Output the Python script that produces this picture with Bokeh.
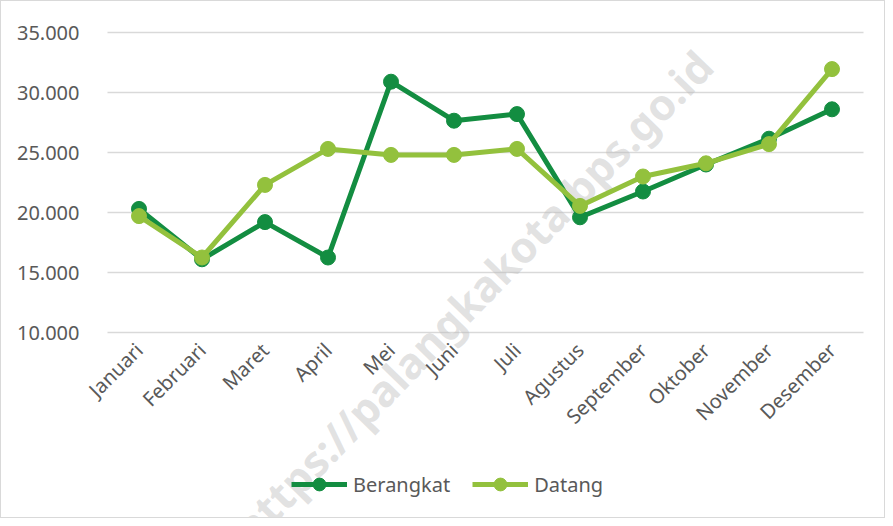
import math
from bokeh.plotting import figure
from bokeh.models import ColumnDataSource, FixedTicker, Legend, LegendItem, Label, Range1d
from bokeh.embed import file_html
from bokeh.resources import INLINE

months = ["Januari", "Februari", "Maret", "April", "Mei", "Juni", "Juli",
          "Agustus", "September", "Oktober", "November", "Desember"]
berangkat = [20300, 16100, 19200, 16250, 30900, 27650, 28200, 19600, 21750, 24000, 26150, 28600]
datang = [19700, 16250, 22300, 25300, 24800, 24800, 25300, 20550, 23000, 24100, 25700, 31950]
y_ticks = [10000, 15000, 20000, 25000, 30000, 35000]
y_tick_labels = ["10.000", "15.000", "20.000", "25.000", "30.000", "35.000"]
series_names = ["Berangkat", "Datang"]
watermark = "https://palangkakota.bps.go.id"

C_DARK = "#138d41"
C_LIGHT = "#93c13d"
TXT = "#595959"
FONT = "Noto Sans"

# ---- layout in pixels: the frame fills the whole canvas, axes are pinned inside it
W, H = 885, 518
CAT_PX = 63.0            # width of one month band
FIRST_PX = 137.5         # pixel x of the first month
TOP_PX = 31.0            # pixel y of the top grid line
GRID_PX = 300.0          # pixels from lowest to highest grid line
idx = list(range(len(months)))
x_start = -FIRST_PX / CAT_PX
x_end = (W - FIRST_PX) / CAT_PX
upp = (y_ticks[-1] - y_ticks[0]) / GRID_PX
y_end = y_ticks[-1] + TOP_PX * upp
y_start = y_ticks[-1] - (H - TOP_PX) * upp

src = ColumnDataSource(dict(x=idx, b=berangkat, d=datang))

p = figure(x_range=Range1d(x_start, x_end), y_range=Range1d(y_start, y_end),
           width=W, height=H, output_backend="svg", toolbar_location=None,
           min_border_left=0, min_border_right=0, min_border_top=0, min_border_bottom=0)
p.styles = {"border": "1px solid #d9d9d9"}
p.outline_line_color = None
p.background_fill_color = "white"
p.border_fill_color = "white"

p.xgrid.grid_line_color = None
p.ygrid.grid_line_color = "#d9d9d9"
p.ygrid.grid_line_width = 1.5
p.ygrid.ticker = FixedTicker(ticks=y_ticks)
grid = p.ygrid[0]
if "cross_bounds" in grid.properties():
    grid.cross_bounds = (-0.5, len(months) - 0.5)

p.yaxis.ticker = FixedTicker(ticks=y_ticks)
p.yaxis.major_label_overrides = {t: l for t, l in zip(y_ticks, y_tick_labels)}
p.yaxis.fixed_location = -0.5
p.xaxis.ticker = FixedTicker(ticks=idx)
p.xaxis.major_label_overrides = {i: m for i, m in zip(idx, months)}
p.xaxis.fixed_location = y_ticks[0]
for ax in (p.xaxis, p.yaxis):
    ax.axis_line_color = None
    ax.major_tick_line_color = None
    ax.minor_tick_line_color = None
    ax.major_label_text_color = TXT
    ax.major_label_text_font = FONT
    ax.major_label_text_font_size = "20px"
p.yaxis.major_label_standoff = 22
p.xaxis.major_label_orientation = math.pi / 4
p.xaxis.major_label_standoff = 8

wm = Label(x=5.3, y=13000, text=watermark, angle=0.80, text_align="center",
           text_baseline="middle", text_font=FONT, text_font_style="bold",
           text_font_size="43px", text_color="#bdbdbd", text_alpha=0.45, level="underlay")
p.add_layout(wm)

lb = p.line("x", "b", source=src, line_color=C_DARK, line_width=5)
cb = p.scatter("x", "b", source=src, size=15, fill_color=C_DARK, line_color=C_DARK)
ld = p.line("x", "d", source=src, line_color=C_LIGHT, line_width=5)
cd = p.scatter("x", "d", source=src, size=15, fill_color=C_LIGHT, line_color=C_LIGHT)

legend = Legend(items=[LegendItem(label=series_names[0], renderers=[lb, cb]),
                       LegendItem(label=series_names[1], renderers=[ld, cd])],
                orientation="horizontal", location=(290, 19),
                glyph_width=56, glyph_height=32, label_standoff=6, spacing=22,
                padding=0, margin=0, border_line_color=None, background_fill_alpha=0,
                label_text_color=TXT, label_text_font=FONT, label_text_font_size="20px")
p.add_layout(legend, "center")

open("out.html", "w").write(file_html(p, INLINE))
